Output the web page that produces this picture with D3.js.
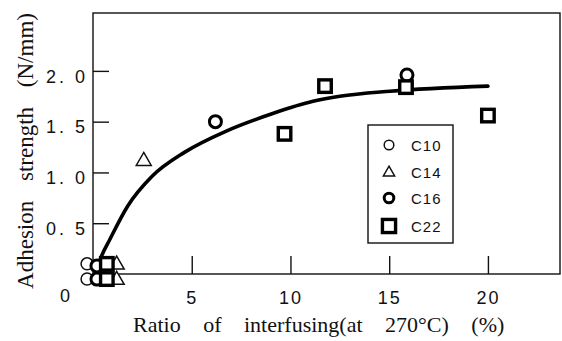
<!DOCTYPE html>
<html>
<head>
<meta charset="utf-8">
<script src="https://cdn.jsdelivr.net/npm/d3@7"></script>
<style>
  html, body { margin: 0; padding: 0; background: #fff; }
  svg { display: block; }
</style>
</head>
<body>
<div id="chart"></div>
<script>
// data
const xTicks = [5, 10, 15, 20];
const yTicks = [0.5, 1.0, 1.5, 2.0];
const seriesNames = ["C10", "C14", "C16", "C22"];

const c10X = [-0.3, -0.3];
const c10Y = [0.1, -0.05];
const c14X = [1.2, 1.2, 2.57];
const c14Y = [0.1, -0.05, 1.12];
const c16X = [0.2, 0.2, 6.2, 15.9];
const c16Y = [0.08, -0.05, 1.5, 1.96];
const c22X = [0.7, 0.7, 9.7, 11.75, 15.85, 20];
const c22Y = [0.1, -0.05, 1.38, 1.85, 1.84, 1.56];

const fitX = [0.15, 0.44, 0.85, 1.76, 2.98, 4.65, 6.78, 9.1, 11.14, 12.5, 15.04, 20];
const fitY = [0.02, 0.18, 0.34, 0.67, 0.96, 1.2, 1.41, 1.58, 1.70, 1.75, 1.80, 1.85];

const width = 562, height = 341;
const plotL = 93, plotR = 560, plotT = 13, plotB = 274;

const svg = d3.select("#chart").append("svg")
    .attr("width", width)
    .attr("height", height);

const x = d3.scaleLinear().domain([0, 23.65]).range([plotL, plotR]);
const y = d3.scaleLinear().domain([0, 2.57]).range([plotB, plotT]);

// frame
svg.append("rect")
    .attr("x", plotL).attr("y", plotT)
    .attr("width", plotR - plotL).attr("height", plotB - plotT)
    .attr("fill", "none").attr("stroke", "#111").attr("stroke-width", 1.4);

// axes, ticks pointing inward
const yAxis = svg.append("g")
    .attr("transform", `translate(${plotL},0)`)
    .call(d3.axisLeft(y).tickValues(yTicks)
        .tickSizeInner(-16).tickSizeOuter(0).tickPadding(5)
        .tickFormat(d => d.toFixed(1).replace(".", ". ")));
yAxis.select(".domain").remove();
yAxis.selectAll("line").attr("stroke", "#111").attr("stroke-width", 1.4);
yAxis.selectAll("text")
    .attr("dy", "0.62em")
    .attr("font-family", "Liberation Sans, Arial, sans-serif")
    .attr("font-size", 18).attr("fill", "#111")
    .attr("letter-spacing", 3);

const xAxis = svg.append("g")
    .attr("transform", `translate(0,${plotB})`)
    .call(d3.axisBottom(x).tickValues(xTicks)
        .tickSizeInner(-18).tickSizeOuter(0).tickPadding(17));
xAxis.select(".domain").remove();
xAxis.selectAll("line").attr("stroke", "#111").attr("stroke-width", 1.4);
xAxis.selectAll("text")
    .attr("font-family", "Liberation Sans, Arial, sans-serif")
    .attr("font-size", 18).attr("fill", "#111")
    .attr("letter-spacing", 2);

// origin label
svg.append("text")
    .attr("x", 65).attr("y", 302)
    .attr("text-anchor", "middle")
    .attr("font-family", "Liberation Sans, Arial, sans-serif")
    .attr("font-size", 18).attr("fill", "#111")
    .text("0");

// axis titles
svg.append("text")
    .attr("x", 133).attr("y", 332)
    .attr("font-family", "Liberation Serif, Times New Roman, serif")
    .attr("font-size", 22).attr("fill", "#111")
    .attr("word-spacing", 17)
    .text("Ratio of interfusing(at 270°C) (%)");

svg.append("text")
    .attr("transform", "translate(33,151) rotate(-90)")
    .attr("text-anchor", "middle")
    .attr("font-family", "Liberation Serif, Times New Roman, serif")
    .attr("font-size", 23).attr("fill", "#111")
    .attr("word-spacing", 14)
    .text("Adhesion strength (N/mm)");

// fitted curve
const fit = fitX.map((d, i) => [d, fitY[i]]);
svg.append("path")
    .datum(fit)
    .attr("fill", "none")
    .attr("stroke", "#000")
    .attr("stroke-width", 3.6)
    .attr("stroke-linecap", "round")
    .attr("d", d3.line().x(d => x(d[0])).y(d => y(d[1])).curve(d3.curveMonotoneX));

// markers
function drawMarker(g, type, cx, cy, s) {
    if (type === "C10") {
        g.append("circle").attr("cx", cx).attr("cy", cy).attr("r", 6 * s)
            .attr("fill", "#fff").attr("stroke", "#111").attr("stroke-width", 1.5);
    } else if (type === "C14") {
        const h = 13 * s, w = 15 * s;
        g.append("path")
            .attr("d", `M${cx},${cy - h * 0.6}L${cx + w / 2},${cy + h * 0.4}L${cx - w / 2},${cy + h * 0.4}Z`)
            .attr("fill", "#fff").attr("stroke", "#111").attr("stroke-width", 1.5);
    } else if (type === "C16") {
        g.append("circle").attr("cx", cx).attr("cy", cy).attr("r", 6 * s)
            .attr("fill", "#fff").attr("stroke", "#000").attr("stroke-width", 3);
    } else {
        const a = 12.5 * s;
        g.append("rect").attr("x", cx - a / 2).attr("y", cy - a / 2)
            .attr("width", a).attr("height", a)
            .attr("fill", "#fff").attr("stroke", "#000").attr("stroke-width", 3.4);
    }
}

const pts = svg.append("g");
const seriesX = { C10: c10X, C14: c14X, C16: c16X, C22: c22X };
const seriesY = { C10: c10Y, C14: c14Y, C16: c16Y, C22: c22Y };
seriesNames.forEach(name => {
    seriesX[name].forEach((v, i) => drawMarker(pts, name, x(v), y(seriesY[name][i]), 1));
});

// legend
const lg = svg.append("g");
lg.append("rect")
    .attr("x", 368).attr("y", 125).attr("width", 85).attr("height", 118)
    .attr("fill", "#fff").attr("stroke", "#111").attr("stroke-width", 1.4);
const rowY = [145, 172, 198, 226];
const legendScale = [0.8, 0.75, 0.8, 1.05];
seriesNames.forEach((name, i) => {
    drawMarker(lg, name, 389, rowY[i], legendScale[i]);
    lg.append("text")
        .attr("x", 411).attr("y", rowY[i] + 6)
        .attr("font-family", "Liberation Sans, Arial, sans-serif")
        .attr("font-size", 15).attr("fill", "#111")
        .attr("letter-spacing", 1)
        .text(name);
});
</script>
</body>
</html>
